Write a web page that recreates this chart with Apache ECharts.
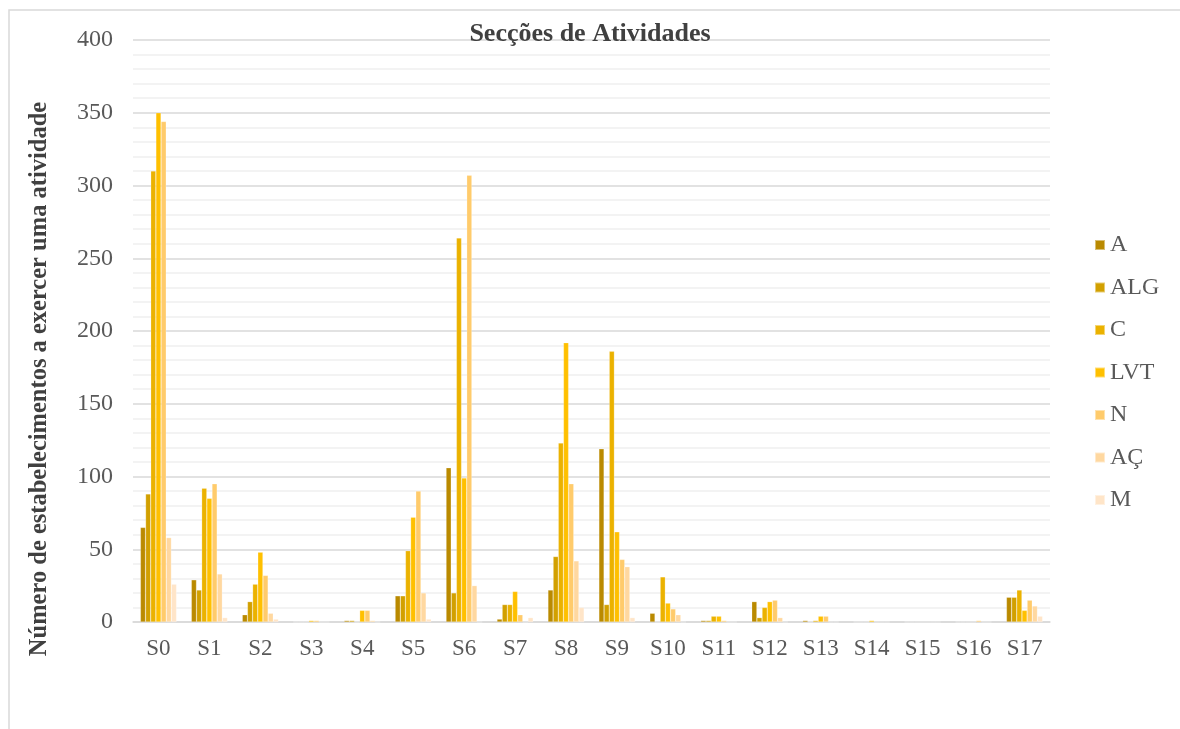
<!DOCTYPE html>
<html>
<head>
<meta charset="utf-8">
<script src="https://cdn.jsdelivr.net/npm/echarts@6/dist/echarts.min.js"></script>
<style>
  html, body { margin: 0; padding: 0; background: #fff; }
  #chart { width: 1180px; height: 729px; }
</style>
</head>
<body>
<div id="chart"></div>
<script>
const categories = ["S0", "S1", "S2", "S3", "S4", "S5", "S6", "S7", "S8", "S9", "S10", "S11", "S12", "S13", "S14", "S15", "S16", "S17"];
const seriesNames = ["A", "ALG", "C", "LVT", "N", "AÇ", "M"];
const valuesA   = [65, 29, 5, 0, 1, 18, 106, 2, 22, 119, 6, 1, 14, 1, 0, 0, 0, 17];
const valuesALG = [88, 22, 14, 0, 1, 18, 20, 12, 45, 12, 0, 1, 3, 0, 0, 0, 0, 17];
const valuesC   = [310, 92, 26, 0, 0, 49, 264, 12, 123, 186, 31, 4, 10, 1, 0, 0, 0, 22];
const valuesLVT = [350, 85, 48, 1, 8, 72, 99, 21, 192, 62, 13, 4, 14, 4, 1, 0, 0, 8];
const valuesN   = [344, 95, 32, 1, 8, 90, 307, 5, 95, 43, 9, 1, 15, 4, 0, 0, 1, 15];
const valuesAC  = [58, 33, 6, 0, 1, 20, 25, 0, 42, 38, 5, 0, 3, 0, 0, 0, 0, 11];
const valuesM   = [26, 3, 2, 0, 0, 2, 0, 3, 10, 3, 0, 0, 0, 0, 0, 0, 0, 4];
const allValues = [valuesA, valuesALG, valuesC, valuesLVT, valuesN, valuesAC, valuesM];

const colors = ["#BA8A00", "#D2A000", "#EBB200", "#FFC000", "#FFCB6B", "#FFD8A0", "#FFE5C8"];
const serif = "'Liberation Serif', 'Times New Roman', serif";

const option = {
  animation: false,
  color: colors,
  title: {
    text: "Secções de Atividades",
    left: "center",
    top: 16,
    textStyle: { fontFamily: serif, fontSize: 26, fontWeight: "bold", color: "#404040" }
  },
  legend: {
    orient: "vertical",
    left: 1089,
    top: 228,
    itemWidth: 10,
    itemHeight: 10,
    itemGap: 18.5,
    icon: "rect",
    textStyle: { fontFamily: serif, fontSize: 24, color: "#595959" },
    data: seriesNames
  },
  grid: { left: 133, right: 130, top: 40, bottom: 107, containLabel: false },
  xAxis: {
    type: "category",
    data: categories,
    axisTick: { show: false },
    axisLine: { lineStyle: { color: "#d9d9d9", width: 1.5 } },
    axisLabel: { fontFamily: serif, fontSize: 23, color: "#595959", margin: 15 }
  },
  yAxis: {
    type: "value",
    min: 0,
    max: 400,
    interval: 50,
    axisLabel: { fontFamily: serif, fontSize: 24, color: "#595959", margin: 20 },
    splitLine: { lineStyle: { color: "#d9d9d9", width: 1.5 } },
    minorTick: { show: false, splitNumber: 5 },
    minorSplitLine: { show: true, lineStyle: { color: "#f0f0f0", width: 1.5 } }
  },
  graphic: [
    {
      type: "rect",
      silent: true,
      shape: { x: 9, y: 10, width: 1400, height: 1000 },
      style: { fill: "none", stroke: "#d9d9d9", lineWidth: 1.5 }
    },
    {
      type: "text",
      x: 40,
      y: 379,
      rotation: Math.PI / 2,
      style: {
        text: "Número de estabelecimentos a exercer uma atividade",
        font: "bold 24.5px " + serif,
        fill: "#404040",
        align: "center",
        verticalAlign: "middle"
      }
    }
  ],
  series: seriesNames.map(function (name, i) {
    return {
      name: name,
      type: "bar",
      data: allValues[i],
      barGap: "0%",
      barCategoryGap: "29%",
      itemStyle: { borderColor: "rgba(255,255,255,0.45)", borderWidth: 0.5 }
    };
  })
};

const chart = echarts.init(document.getElementById("chart"));
chart.setOption(option);
</script>
</body>
</html>
